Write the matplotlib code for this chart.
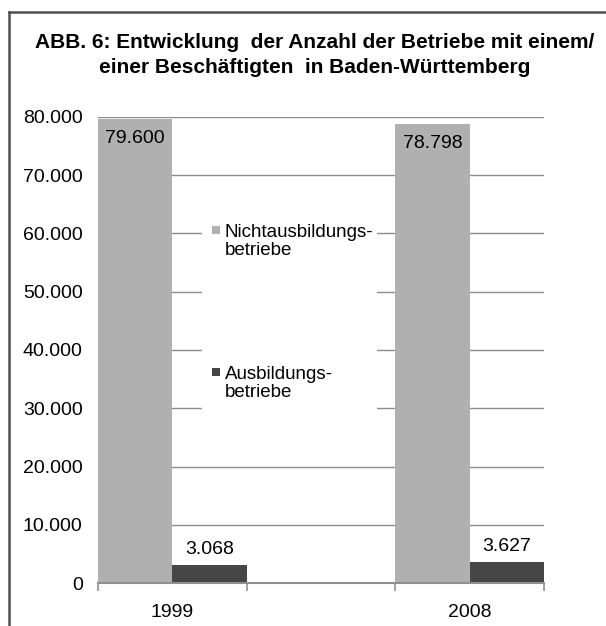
import matplotlib.pyplot as plt
from matplotlib.patches import Rectangle

# Daten
kategorien = ['1999', '', '2008']
nicht_ausb = [79600, None, 78798]
ausb = [3068, None, 3627]
nicht_label = ['79.600', '', '78.798']
ausb_label = ['3.068', '', '3.627']
y_ticks = [0, 10000, 20000, 30000, 40000, 50000, 60000, 70000, 80000]
y_tick_labels = ['0', '10.000', '20.000', '30.000', '40.000', '50.000', '60.000', '70.000', '80.000']

titel = 'ABB. 6: Entwicklung  der Anzahl der Betriebe mit einem/\neiner Beschäftigten  in Baden-Württemberg'

plt.rcParams['font.family'] = ['Liberation Sans', 'DejaVu Sans']

W, H = 606, 626
fig = plt.figure(figsize=(W / 100, H / 100), dpi=100)

def px(x, y):
    return x / W, 1 - y / H

# Rahmen (nur oben und links sichtbar)
fig.add_artist(plt.Line2D([9 / W, 1.0], [1 - 12 / H, 1 - 12 / H], color='#505050', lw=1.8))
fig.add_artist(plt.Line2D([9 / W, 9 / W], [0, 1 - 12 / H], color='#505050', lw=1.8))

ax = fig.add_axes([98 / W, 1 - 583 / H, (544 - 98) / W, (583 - 117) / H])

grau = '#b0b0b0'
dunkel = '#464646'
bw = 0.5
for i, k in enumerate(kategorien):
    if nicht_ausb[i] is None:
        continue
    ax.bar(i - bw / 2, nicht_ausb[i], width=bw, color=grau, zorder=3)
    ax.bar(i + bw / 2, ausb[i], width=bw, color=dunkel, zorder=3)
    ax.annotate(nicht_label[i], (i - bw / 2, nicht_ausb[i]), xytext=(0, -14),
                textcoords='offset points', ha='center', va='center', fontsize=14, zorder=4)
    ax.annotate(ausb_label[i], (i + bw / 2, ausb[i]), xytext=(0, 11),
                textcoords='offset points', ha='center', va='center', fontsize=14, zorder=4)

ax.set_xlim(-0.5, len(kategorien) - 0.5)
ax.set_ylim(0, 80000)
ax.set_yticks(y_ticks)
ax.set_yticklabels(y_tick_labels, fontsize=14)
ax.tick_params(axis='y', length=0, pad=11)
ax.set_xticks(range(len(kategorien)))
ax.set_xticklabels(kategorien, fontsize=14)
ax.tick_params(axis='x', length=0, pad=15)
# Striche zwischen den Kategorien
ax.set_xticks([-0.5, 0.5, 1.5, 2.5], minor=True)
ax.tick_params(axis='x', which='minor', length=6, color='#909090', width=1.2, direction='out')

ax.grid(axis='y', color='#8c8c8c', lw=1, zorder=0)
for s in ['left', 'right', 'top']:
    ax.spines[s].set_visible(False)
ax.spines['bottom'].set_color('#909090')
ax.spines['bottom'].set_linewidth(1.5)
ax.spines['bottom'].set_zorder(5)

# Legende
fig.add_artist(Rectangle(px(202, 415), 175 / W, 205 / H, facecolor='white', edgecolor='none', zorder=2))
for (sy, farbe, text) in [(226, grau, 'Nichtausbildungs-\nbetriebe'), (368, dunkel, 'Ausbildungs-\nbetriebe')]:
    fig.add_artist(Rectangle(px(212, sy + 8), 8 / W, 8 / H, facecolor=farbe, edgecolor='none', zorder=3))
    fig.text(*px(225, sy - 2), text, fontsize=13.5, va='top', ha='left', linespacing=1.05, zorder=3)

fig.text(*px(315, 33), titel, fontsize=15, fontweight='bold', ha='center', va='top', linespacing=1.4)

plt.savefig('out.png', dpi=100)
